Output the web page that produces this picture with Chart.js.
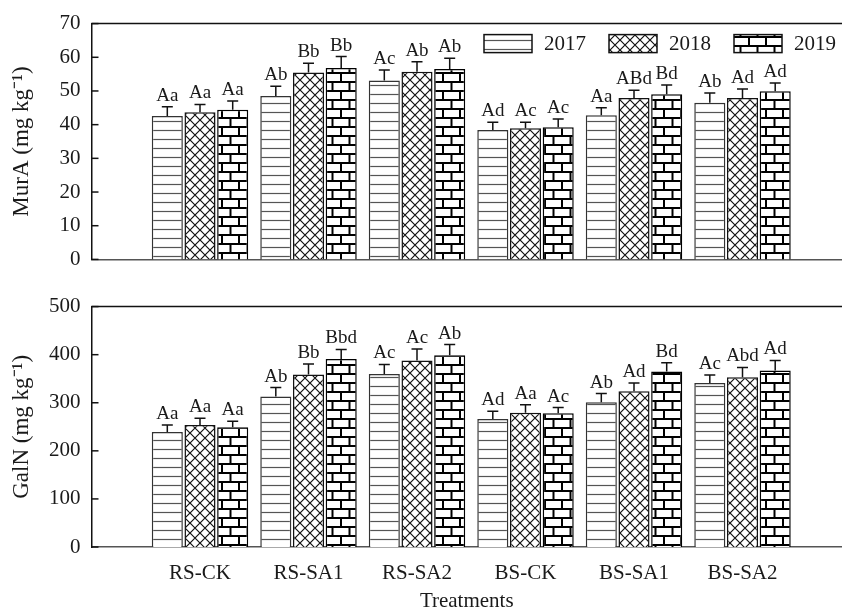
<!DOCTYPE html>
<html>
<head>
<meta charset="utf-8">
<script src="https://cdn.jsdelivr.net/npm/chart.js@4.4.0/dist/chart.umd.min.js"></script>
<style>
html, body { margin: 0; padding: 0; background: #fff; overflow: hidden; }
#wrap { position: relative; width: 842px; height: 610px; }
#top { position: absolute; left: 0; top: 0; }
#bottom { position: absolute; left: 0; top: 283px; }
</style>
</head>
<body>
<div id="wrap">
  <canvas id="top" width="842" height="283"></canvas>
  <canvas id="bottom" width="842" height="327"></canvas>
</div>
<script>
// data
const treatments = ['RS-CK', 'RS-SA1', 'RS-SA2', 'BS-CK', 'BS-SA1', 'BS-SA2'];
const years = ['2017', '2018', '2019'];

const murA2017 = [42.6, 48.5, 53.1, 38.4, 42.8, 46.5];
const murA2018 = [43.7, 55.5, 55.7, 38.9, 47.9, 47.9];
const murA2019 = [44.4, 56.8, 56.5, 39.2, 49.0, 49.9];
const murAErr2017 = [2.7, 2.9, 3.1, 2.3, 2.2, 2.9];
const murAErr2018 = [2.3, 2.7, 3.0, 1.8, 2.3, 2.7];
const murAErr2019 = [2.6, 3.4, 3.2, 2.5, 2.8, 2.5];
const murALetters2017 = ['Aa', 'Ab', 'Ac', 'Ad', 'Aa', 'Ab'];
const murALetters2018 = ['Aa', 'Bb', 'Ab', 'Ac', 'ABd', 'Ad'];
const murALetters2019 = ['Aa', 'Bb', 'Ab', 'Ac', 'Bd', 'Ad'];

const galN2017 = [239, 313, 360, 266, 301, 341];
const galN2018 = [254, 359, 388, 279, 324, 353];
const galN2019 = [249, 391, 399, 278, 365, 367];
const galNErr2017 = [14.6, 18.6, 19.8, 16.5, 18, 16.5];
const galNErr2018 = [14, 21.7, 23.7, 16.7, 17, 20.4];
const galNErr2019 = [12.5, 19.8, 22, 12, 18.4, 21];
const galNLetters2017 = ['Aa', 'Ab', 'Ac', 'Ad', 'Ab', 'Ac'];
const galNLetters2018 = ['Aa', 'Bb', 'Ac', 'Aa', 'Ad', 'Abd'];
const galNLetters2019 = ['Aa', 'Bbd', 'Ab', 'Ac', 'Bd', 'Ad'];

const FONT = "'Liberation Serif', 'Times New Roman', serif";
Chart.defaults.font.family = FONT;
Chart.defaults.color = '#1a1a1a';

function makePattern(kind) {
    var c = document.createElement('canvas');
    var g = c.getContext('2d');
    if (kind == 'lines') {
        c.width = 8; c.height = 9;
        g.fillStyle = '#fff'; g.fillRect(0, 0, 8, 9);
        g.strokeStyle = '#555'; g.lineWidth = 1.2;
        g.beginPath(); g.moveTo(0, 4.5); g.lineTo(8, 4.5); g.stroke();
    } else if (kind == 'cross') {
        c.width = 10; c.height = 10;
        g.fillStyle = '#fff'; g.fillRect(0, 0, 10, 10);
        g.strokeStyle = '#111'; g.lineWidth = 1.2;
        g.beginPath();
        g.moveTo(-1, -1); g.lineTo(11, 11);
        g.moveTo(11, -1); g.lineTo(-1, 11);
        g.stroke();
    } else {
        c.width = 34; c.height = 18;
        g.fillStyle = '#fff'; g.fillRect(0, 0, 34, 18);
        g.strokeStyle = '#000'; g.lineWidth = 2;
        g.beginPath();
        g.moveTo(0, 1); g.lineTo(34, 1);
        g.moveTo(0, 10); g.lineTo(34, 10);
        g.moveTo(1, 1); g.lineTo(1, 10);
        g.moveTo(18, 1); g.lineTo(18, 10);
        g.moveTo(9.5, 10); g.lineTo(9.5, 18);
        g.moveTo(26.5, 10); g.lineTo(26.5, 18);
        g.moveTo(9.5, 0); g.lineTo(9.5, 1);
        g.moveTo(26.5, 0); g.lineTo(26.5, 1);
        g.stroke();
    }
    return g.createPattern(c, 'repeat');
}
const patterns = [makePattern('lines'), makePattern('cross'), makePattern('brick')];
const borders = ['#333', '#111', '#000'];

// error bars, letters, inward ticks, frame line and the legend
function makeDecor(errs, letters, withLegend) {
    return {
        id: 'decor',
        afterDatasetsDraw(chart) {
            var ctx = chart.ctx, y = chart.scales.y, area = chart.chartArea;
            ctx.save();
            chart.data.datasets.forEach((ds, k) => {
                chart.getDatasetMeta(k).data.forEach((bar, i) => {
                    var top = y.getPixelForValue(ds.data[i].y + errs[k][i]);
                    ctx.strokeStyle = '#111';
                    ctx.lineWidth = 1.5;
                    ctx.beginPath();
                    ctx.moveTo(bar.x, bar.y); ctx.lineTo(bar.x, top);
                    ctx.moveTo(bar.x - 5.5, top); ctx.lineTo(bar.x + 5.5, top);
                    ctx.stroke();
                    ctx.fillStyle = '#1a1a1a';
                    ctx.font = '19px ' + FONT;
                    ctx.textAlign = 'center';
                    ctx.textBaseline = 'alphabetic';
                    ctx.fillText(letters[k][i], bar.x, top - 6);
                });
            });
            // top frame line
            ctx.strokeStyle = '#111';
            ctx.lineWidth = 1.5;
            ctx.beginPath();
            ctx.moveTo(area.left, area.top); ctx.lineTo(area.right, area.top);
            ctx.stroke();
            // ticks pointing inward
            y.ticks.forEach(t => {
                var py = y.getPixelForValue(t.value);
                ctx.beginPath();
                ctx.moveTo(area.left, py); ctx.lineTo(area.left + 7, py);
                ctx.stroke();
            });
            if (withLegend) {
                ctx.font = '21px ' + FONT;
                ctx.textAlign = 'left';
                ctx.textBaseline = 'middle';
                var boxW = 48, boxH = 18, gap = 12, space = 23;
                var widths = chart.data.datasets.map(ds => ctx.measureText(ds.label).width);
                var total = 0;
                widths.forEach(w => total += boxW + gap + w);
                total += space * (widths.length - 1);
                var x = area.right - 6 - total;
                var yTop = area.top + 11;
                chart.data.datasets.forEach((ds, k) => {
                    ctx.fillStyle = ds.backgroundColor;
                    ctx.fillRect(x, yTop, boxW, boxH);
                    ctx.strokeStyle = '#111';
                    ctx.lineWidth = 1.5;
                    ctx.strokeRect(x, yTop, boxW, boxH);
                    ctx.fillStyle = '#1a1a1a';
                    ctx.fillText(ds.label, x + boxW + gap, yTop + boxH / 2 + 1);
                    x += boxW + gap + widths[k] + space;
                });
            }
            ctx.restore();
        }
    };
}

function buildChart(id, series, errs, letters, yMax, yStep, yTitle, isBottom) {
    var datasets = years.map((yr, k) => ({
        label: yr,
        data: series[k].map((v, i) => ({x: i + 1, y: v})),
        backgroundColor: patterns[k],
        borderColor: borders[k],
        borderWidth: 1.5,
        categoryPercentage: 0.904,
        barPercentage: 0.95
    }));
    return new Chart(document.getElementById(id), {
        type: 'bar',
        data: {datasets: datasets},
        options: {
            responsive: false,
            animation: false,
            layout: {padding: {top: isBottom ? 11 : 20, left: 0, right: 0, bottom: 0}},
            plugins: {legend: {display: false}, tooltip: {enabled: false}},
            scales: {
                x: {
                    type: 'linear',
                    offset: false,
                    min: 0,
                    max: 6.917,
                    grid: {display: false, drawTicks: false},
                    border: {display: true, color: '#555', width: 1.5},
                    ticks: {
                        display: isBottom,
                        stepSize: 1,
                        includeBounds: false,
                        autoSkip: false,
                        maxRotation: 0,
                        padding: 14,
                        color: '#1a1a1a',
                        font: {size: 21},
                        callback: v => treatments[v - 1] || ''
                    },
                    title: {
                        display: isBottom,
                        text: 'Treatments',
                        color: '#1a1a1a',
                        font: {size: 21, lineHeight: 0.8},
                        padding: {top: 0, bottom: 0}
                    },
                    afterFit: s => { s.height = isBottom ? 63 : 10; }
                },
                y: {
                    min: 0,
                    max: yMax,
                    grid: {display: false, drawTicks: false},
                    border: {display: true, color: '#111', width: 1.5},
                    ticks: {stepSize: yStep, padding: 11, color: '#1a1a1a', font: {size: 21}},
                    title: {
                        display: true,
                        text: yTitle,
                        color: '#1a1a1a',
                        font: {size: 23},
                        padding: {top: 8, bottom: 0}
                    },
                    afterFit: s => { s.width = 91.5; }
                }
            }
        },
        plugins: [makeDecor(errs, letters, !isBottom)]
    });
}

buildChart('top',
    [murA2017, murA2018, murA2019],
    [murAErr2017, murAErr2018, murAErr2019],
    [murALetters2017, murALetters2018, murALetters2019],
    70, 10, 'MurA (mg kg\u207B\u00B9)', false);

buildChart('bottom',
    [galN2017, galN2018, galN2019],
    [galNErr2017, galNErr2018, galNErr2019],
    [galNLetters2017, galNLetters2018, galNLetters2019],
    500, 100, 'GalN (mg kg\u207B\u00B9)', true);
</script>
</body>
</html>
